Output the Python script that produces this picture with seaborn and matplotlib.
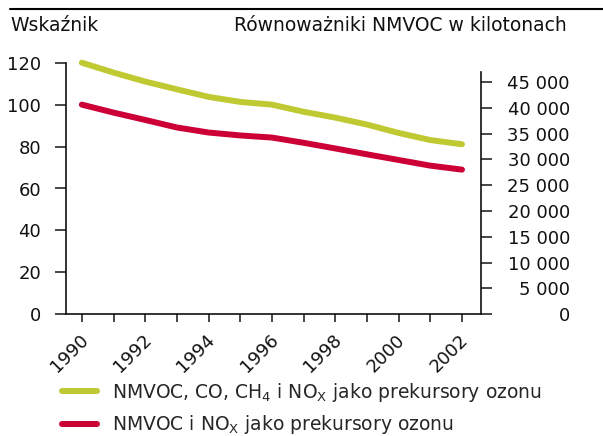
import matplotlib
matplotlib.use("Agg")
import matplotlib.pyplot as plt
import matplotlib.transforms as mtransforms
from matplotlib.lines import Line2D
from matplotlib.ticker import FuncFormatter, MultipleLocator
import numpy as np
import pandas as pd
import seaborn as sns

years = list(range(1990, 2003))
series_a_label = "NMVOC, CO, CH$_4$ i NO$_\\mathrm{X}$ jako prekursory ozonu"
series_b_label = "NMVOC i NO$_\\mathrm{X}$ jako prekursory ozonu"
series_a = [120, 115.3, 111.0, 107.3, 103.7, 101.3, 100.0, 96.6, 93.8, 90.5, 86.5, 83.1, 81.1]
series_b = [100, 96.2, 92.7, 89.1, 86.7, 85.3, 84.3, 81.8, 79.1, 76.3, 73.6, 70.9, 69.0]
left_ticks = [0, 20, 40, 60, 80, 100, 120]
right_ticks = list(range(0, 45001, 5000))
xtick_labels = [1990, 1992, 1994, 1996, 1998, 2000, 2002]
left_title = "Wskaźnik"
right_title = "Równoważniki NMVOC w kilotonach"

sns.set_style("ticks")
plt.rcParams["font.family"] = ["DejaVu Sans"]
plt.rcParams["mathtext.default"] = "regular"
plt.rcParams["lines.solid_capstyle"] = "round"

GREEN = "#BFC932"
RED = "#CC0036"
FS_TICK = 13
FS_TEXT = 13.5
TXT = "#111111"

df = pd.DataFrame({
    "year": years * 2,
    "value": series_a + series_b,
    "series": [series_a_label] * len(years) + [series_b_label] * len(years),
})

fig = plt.figure(figsize=(6.03, 4.36), dpi=100)
ax = fig.add_axes([66 / 603, 1 - 314.3 / 436, (481 - 66) / 603, (314.3 - 62.7) / 436])

sns.lineplot(data=df, x="year", y="value", hue="series",
             palette={series_a_label: GREEN, series_b_label: RED},
             hue_order=[series_a_label, series_b_label],
             linewidth=4.3, ax=ax, legend=False, clip_on=False)
for ln in ax.lines:
    ln.set_solid_capstyle("round")
    ln.set_clip_on(False)

ax.set_xlim(1989.5, 2002.6)
ax.set_ylim(0, 120)
ax.set_yticks(left_ticks)
ax.set_xticks(xtick_labels)
ax.xaxis.set_minor_locator(MultipleLocator(1))
ax.set_xticklabels([str(y) for y in xtick_labels], rotation=45, ha="right",
                   fontsize=FS_TICK, color=TXT)
ax.tick_params(axis="x", which="both", length=6, width=1.2, direction="out", pad=6)
ax.tick_params(axis="y", length=8, width=1.2, direction="out", pad=10, labelsize=FS_TICK,
               labelcolor=TXT)
ax.set_xlabel("")
ax.set_ylabel("")
for s in ["top", "right"]:
    ax.spines[s].set_visible(False)
for s in ["left", "bottom"]:
    ax.spines[s].set_linewidth(1.2)
    ax.spines[s].set_color(TXT)

offset = mtransforms.ScaledTranslation(10 / 100, 0, fig.dpi_scale_trans)
for lbl in ax.get_xticklabels():
    lbl.set_transform(lbl.get_transform() + offset)

ax2 = ax.twinx()
ax2.set_ylim(0, 48740)
ax2.set_yticks(right_ticks)
ax2.yaxis.set_major_formatter(FuncFormatter(lambda v, p: f"{int(v):,}".replace(",", " ")))
ax2.spines["right"].set_bounds(0, 47000)
ax2.spines["right"].set_linewidth(1.2)
ax2.spines["right"].set_color(TXT)
for s in ["top", "left", "bottom"]:
    ax2.spines[s].set_visible(False)
ax2.tick_params(axis="y", length=8, width=1.2, direction="out", pad=56, labelsize=FS_TICK,
                labelcolor=TXT)
for lbl in ax2.get_yticklabels():
    lbl.set_horizontalalignment("right")

fig.add_artist(Line2D([10 / 603, 1.0], [1 - 9.3 / 436] * 2, color="black", lw=1.5))
fig.text(10 / 603, 1 - 30.7 / 436, left_title, ha="left", va="baseline", fontsize=FS_TEXT,
         color=TXT)
fig.text(567 / 603, 1 - 30.7 / 436, right_title, ha="right", va="baseline", fontsize=FS_TEXT,
         color=TXT)

handles = [Line2D([0], [0], color=GREEN, lw=4.3, solid_capstyle="round"),
           Line2D([0], [0], color=RED, lw=4.3, solid_capstyle="round")]
fig.legend(handles, [series_a_label, series_b_label], loc="upper left",
           bbox_to_anchor=(62 / 603, 1 - 381 / 436), frameon=False, fontsize=FS_TEXT,
           handlelength=1.85, handletextpad=0.8, labelspacing=0.5, borderaxespad=0,
           borderpad=0)

fig.savefig("out.png", dpi=100)
